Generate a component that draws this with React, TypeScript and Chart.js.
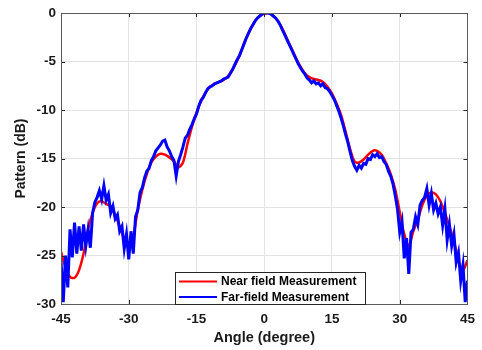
import React, { useEffect, useRef } from "react";
import { Chart, registerables } from "chart.js";

Chart.register(...registerables);

const xTicks = [-45, -30, -15, 0, 15, 30, 45];
const yTicks = [-30, -25, -20, -15, -10, -5, 0];

const nearAngles = [
  -45, -44, -43, -42, -41, -40, -39, -38, -37, -36, -35, -34, -33, -32, -31, -30,
  -29, -28, -27, -26, -25, -24, -23, -22, -21, -20, -19, -18, -17, -16, -15, -14,
  -13, -12, -11, -10, -9, -8, -7, -6, -5, -4, -3, -2, -1, 0, 1, 2, 3, 4, 5, 6, 7,
  8, 9, 10, 11, 12, 13, 14, 15, 16, 17, 18, 19, 20, 21, 22, 23, 24, 25, 26, 27, 28,
  29, 30, 31, 32, 33, 34, 35, 36, 37, 38, 39, 40, 41, 42, 43, 44, 45,
];
const nearField = [
  -24.6, -26.2, -27.2, -27.3, -26.5, -24.8, -22.3, -20.6, -19.6, -19.4, -19.7, -19.9, -20.8, -22.0, -23.3, -24.2,
  -23.0, -20.3, -18.2, -16.6, -15.4, -14.8, -14.5, -14.6, -14.9, -15.3, -15.9, -15.4, -13.5, -11.7, -10.3, -9.1,
  -8.2, -7.6, -7.3, -7.1, -6.9, -6.5, -5.8, -4.9, -3.8, -2.6, -1.6, -0.8, -0.3, -0.05, 0, -0.3, -0.8, -1.6, -2.6, -3.6, -4.6,
  -5.5, -6.2, -6.6, -6.8, -6.9, -7.1, -7.6, -8.3, -9.3, -10.5, -12.2, -14.0, -15.3, -15.4, -15.1, -14.6, -14.2, -14.2, -14.6, -15.5, -16.6,
  -18.2, -20.5, -22.8, -24.0, -22.5, -21.3, -19.8, -18.8, -18.5, -18.7, -19.4, -20.6, -22.0, -23.5, -25.5, -26.5, -25.5,
];

const farAngles = [
  -45, -44.5, -44, -43.5, -43, -42.5, -42, -41.5, -41, -40.5, -40, -39.5, -39, -38.5, -38, -37.5,
  -37, -36.5, -36, -35.5, -35, -34.5, -34, -33.5, -33, -32.5, -32, -31.5, -31, -30.5, -30, -29.5,
  -29, -28.5, -28, -27.5, -27, -26.5, -26, -25.5, -25, -24.5, -24, -23.5, -23, -22.5, -22, -21.5,
  -21, -20.5, -20, -19.5, -19, -18.5, -18, -17.5, -17, -16.5, -16, -15.5, -15, -14.5, -14, -13.5,
  -13, -12.5, -12, -11.5, -11, -10.5, -10, -9.5, -9, -8.5, -8, -7.5, -7, -6.5, -6, -5.5,
  -5, -4.5, -4, -3.5, -3, -2.5, -2, -1.5, -1, -0.5, 0, 0.5, 1, 1.5, 2, 2.5,
  3, 3.5, 4, 4.5, 5, 5.5, 6, 6.5, 7, 7.5, 8, 8.5, 9, 9.5, 10, 10.5,
  11, 11.5, 12, 12.5, 13, 13.5, 14, 14.5, 15, 15.5, 16, 16.5, 17, 17.5, 18, 18.5,
  19, 19.5, 20, 20.5, 21, 21.5, 22, 22.5, 23, 23.5, 24, 24.5, 25, 25.5, 26, 26.5,
  27, 27.5, 28, 28.5, 29, 29.5, 30, 30.5, 31, 31.5, 32, 32.5, 33, 33.5, 34, 34.5,
  35, 35.5, 36, 36.5, 37, 37.5, 38, 38.5, 39, 39.5, 40, 40.5, 41, 41.5, 42, 42.5,
  43, 43.5, 44, 44.5, 45,
];
const farField = [
  -25.5, -29.8, -25.0, -28.3, -22.3, -25.2, -21.6, -24.8, -22.0, -24.5, -21.8, -24.0, -22.3, -24.2, -20.6, -19.5,
  -19.0, -18.3, -19.2, -17.8, -19.3, -18.7, -20.6, -19.9, -21.2, -20.8, -22.5, -22.0, -24.3, -22.8, -25.4, -22.5,
  -24.8, -21.0, -20.3, -18.5, -18.0, -17.0, -16.3, -16.0, -15.2, -14.8, -14.2, -13.9, -13.6, -13.2, -13.1, -13.8,
  -14.2, -14.8, -15.2, -16.8, -15.3, -14.6, -13.8, -12.9, -12.6, -12.0, -11.5, -10.9, -10.4, -9.6, -9.0, -8.7,
  -8.2, -7.8, -7.6, -7.5, -7.3, -7.2, -7.1, -7.0, -6.8, -6.7, -6.6, -6.2, -5.8, -5.3, -4.8, -4.4,
  -3.8, -3.2, -2.6, -2.1, -1.6, -1.2, -0.8, -0.5, -0.3, -0.1, 0, 0, 0, -0.1, -0.3, -0.5,
  -0.8, -1.2, -1.7, -2.2, -2.7, -3.2, -3.7, -4.2, -4.7, -5.2, -5.6, -6.0, -6.3, -6.7, -6.9, -7.2,
  -7.0, -7.3, -7.2, -7.5, -7.3, -7.7, -7.8, -8.1, -8.5, -8.9, -9.5, -10.1, -10.8, -11.6, -12.5, -13.3,
  -14.3, -15.2, -15.8, -16.2, -15.7, -16.0, -15.5, -15.6, -15.0, -15.1, -14.6, -14.8, -14.5, -14.9, -14.8, -15.3,
  -15.6, -16.3, -16.8, -17.6, -18.8, -20.2, -22.6, -21.5, -25.3, -23.2, -26.9, -22.6, -22.3, -21.0, -21.8, -19.8,
  -19.3, -19.0, -18.1, -19.8, -18.6, -20.3, -19.6, -20.7, -20.0, -21.9, -20.2, -23.4, -21.8, -24.0, -22.8, -25.7,
  -24.7, -27.6, -26.0, -29.8, -27.6,
];

const legendLabels = ["Near field Measurement", "Far-field Measurement"];
const seriesColors = ["#ff0000", "#0000ff"];

const FONT = "'Liberation Sans', Arial, sans-serif";

const overlayPlugin = {
  id: "overlay",
  afterDraw(chart: any) {
    const { ctx, chartArea: a, scales } = chart;
    const xs = scales.x;
    const ys = scales.y;
    ctx.save();
    // inner tick marks
    ctx.strokeStyle = "#262626";
    ctx.lineWidth = 1;
    ctx.beginPath();
    xTicks.forEach((t) => {
      const px = Math.round(xs.getPixelForValue(t)) + 0.5;
      ctx.moveTo(px, a.bottom);
      ctx.lineTo(px, a.bottom - 4);
      ctx.moveTo(px, a.top);
      ctx.lineTo(px, a.top + 4);
    });
    yTicks.forEach((t) => {
      const py = Math.round(ys.getPixelForValue(t)) + 0.5;
      ctx.moveTo(a.left, py);
      ctx.lineTo(a.left + 4, py);
      ctx.moveTo(a.right, py);
      ctx.lineTo(a.right - 4, py);
    });
    ctx.stroke();
    // box
    ctx.strokeStyle = "#5a5a5a";
    ctx.strokeRect(Math.round(a.left) + 0.5, Math.round(a.top) + 0.5, Math.round(a.right - a.left), Math.round(a.bottom - a.top));

    // legend
    const lx = 175.5, ly = 272.5, lw = 190, lh = 32;
    ctx.fillStyle = "#ffffff";
    ctx.fillRect(lx, ly, lw, lh);
    ctx.strokeStyle = "#262626";
    ctx.lineWidth = 1;
    ctx.strokeRect(lx, ly, lw, lh);
    const rows = [281.5, 297];
    ctx.font = `bold 12px ${FONT}`;
    ctx.textBaseline = "middle";
    ctx.textAlign = "left";
    legendLabels.forEach((lab, i) => {
      ctx.strokeStyle = seriesColors[i];
      ctx.lineWidth = 2;
      ctx.beginPath();
      ctx.moveTo(179, rows[i]);
      ctx.lineTo(217, rows[i]);
      ctx.stroke();
      ctx.fillStyle = "#000000";
      ctx.fillText(lab, 221, rows[i] + 0.5);
    });
    ctx.restore();
  },
};

export default function App() {
  const ref = useRef<HTMLCanvasElement | null>(null);
  useEffect(() => {
    if (!ref.current) return;
    const chart = new Chart(ref.current, {
      type: "line",
      data: {
        datasets: [
          {
            label: legendLabels[0],
            data: nearAngles.map((x, i) => ({ x, y: nearField[i] })),
            borderColor: seriesColors[0],
            borderWidth: 2.5,
            pointRadius: 0,
            tension: 0.3,
            fill: false,
            order: 2,
          },
          {
            label: legendLabels[1],
            data: farAngles.map((x, i) => ({ x, y: farField[i] })),
            borderColor: seriesColors[1],
            borderWidth: 3,
            pointRadius: 0,
            tension: 0,
            fill: false,
            order: 1,
          },
        ],
      },
      options: {
        responsive: false,
        animation: false,
        events: [],
        layout: { padding: { top: 10, right: 10.5, left: 0, bottom: 0 } },
        plugins: {
          legend: { display: false },
          tooltip: { enabled: false },
        },
        scales: {
          x: {
            type: "linear",
            min: -45,
            max: 45,
            afterBuildTicks: (s: any) => {
              s.ticks = xTicks.map((v) => ({ value: v }));
            },
            afterFit: (s: any) => {
              s.height = 46;
            },
            grid: { color: "#e3e3e3", drawTicks: false },
            border: { display: false },
            ticks: {
              padding: 7,
              color: "#1a1a1a",
              font: { family: FONT, size: 13.5, weight: "bold" },
              callback: (v: any) => String(v),
              maxRotation: 0,
            },
            title: {
              display: true,
              text: "Angle (degree)",
              color: "#1a1a1a",
              font: { family: FONT, size: 14.5, weight: "bold" },
              padding: { top: 0, bottom: 3 },
            },
          },
          y: {
            type: "linear",
            min: -30,
            max: 0,
            afterBuildTicks: (s: any) => {
              s.ticks = yTicks.map((v) => ({ value: v }));
            },
            afterFit: (s: any) => {
              s.width = 61;
            },
            grid: { color: "#e3e3e3", drawTicks: false },
            border: { display: false },
            ticks: {
              padding: 5,
              color: "#1a1a1a",
              font: { family: FONT, size: 13.5, weight: "bold" },
              callback: (v: any) => String(v),
            },
            title: {
              display: true,
              text: "Pattern (dB)",
              color: "#1a1a1a",
              font: { family: FONT, size: 14, weight: "bold" },
              padding: { top: 13, bottom: 0 },
            },
          },
        },
      },
      plugins: [overlayPlugin],
    });
    return () => chart.destroy();
  }, []);
  return (
    <div style={{ position: "absolute", left: 0, top: 0, width: 482, height: 350, background: "#fff" }}>
      <canvas ref={ref} width={482} height={350} style={{ width: 482, height: 350, display: "block" }} />
    </div>
  );
}
